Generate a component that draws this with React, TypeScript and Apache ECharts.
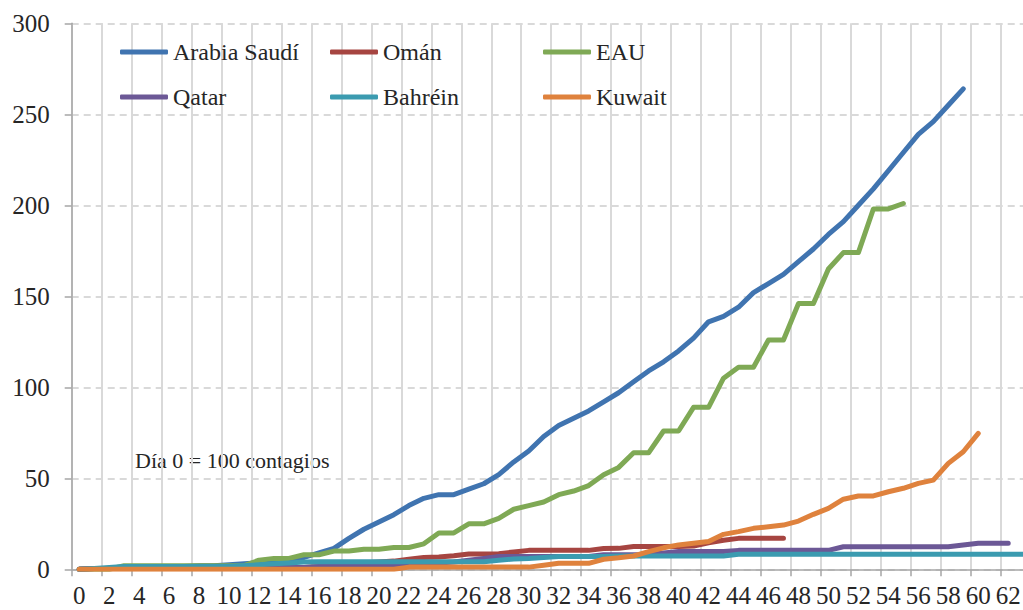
import React, { useEffect, useRef } from "react";
import * as echarts from "echarts";

const days: string[] = [
  "0","1","2","3","4","5","6","7","8","9","10","11","12","13","14","15","16","17","18","19",
  "20","21","22","23","24","25","26","27","28","29","30","31","32","33","34","35","36","37","38","39",
  "40","41","42","43","44","45","46","47","48","49","50","51","52","53","54","55","56","57","58","59",
  "60","61","62","63",
];

const seriesNames = ["Arabia Saudí", "Omán", "EAU", "Qatar", "Bahréin", "Kuwait"];

const arabiaSaudi = [
  0, 0.5, 0.5, 1, 1, 1, 1.5, 1.5, 2, 2,
  2.5, 3, 3.5, 4, 4.5, 6.5, 9, 11.5, 17, 22,
  26, 30, 35, 39, 41, 41, 44, 47, 52, 59,
  65, 73, 79, 83, 87, 92, 97, 103, 109, 114,
  120, 127, 136, 139, 144, 152, 157, 162, 169, 176,
  184, 191, 200, 209, 219, 229, 239, 246, 255, 264,
];

const oman = [
  0, 0.5, 0.5, 0.5, 0.5, 0.5, 0.5, 0.5, 0.5, 0.5,
  0.5, 1, 1, 1, 1, 1, 1.5, 2.5, 3, 3.5,
  4, 4.5, 5.5, 6.5, 6.8, 7.5, 8.4, 8.4, 8.6, 9.5,
  10.4, 10.4, 10.4, 10.4, 10.4, 11.4, 11.5, 12.5, 12.5, 12.5,
  12.5, 12.8, 14.6, 16, 17, 17, 17, 17,
];

const eau = [
  0, 0, 0, 2, 2, 2, 2, 2, 2, 2,
  2, 2, 5, 6, 6, 8, 8, 10, 10, 11,
  11, 12, 12, 14, 20, 20, 25, 25, 28, 33,
  35, 37, 41, 43, 46, 52, 56, 64, 64, 76,
  76, 89, 89, 105, 111, 111, 126, 126, 146, 146,
  165, 174, 174, 198, 198, 201,
];

const qatar = [
  0, 0.5, 0.5, 0.5, 0.5, 0.5, 0.5, 0.5, 0.5, 0.5,
  0.5, 1, 1, 1, 1, 1, 1.5, 1.5, 1.5, 1.5,
  2, 2, 2, 3, 3.5, 4, 5, 6, 7, 7,
  7, 7, 7, 7, 7, 8, 8, 8, 8, 9,
  9.8, 9.8, 9.8, 9.8, 10.4, 10.4, 10.4, 10.4, 10.4, 10.4,
  10.4, 12.4, 12.4, 12.4, 12.4, 12.4, 12.4, 12.4, 12.4, 13.4,
  14.3, 14.3, 14.3,
];

const bahrein = [
  0, 0.5, 1, 1.5, 1.5, 1.5, 1.5, 1.5, 1.5, 1.5,
  1.5, 2, 2.5, 3, 3.5, 4, 4.2, 4.2, 4.2, 4.2,
  4.2, 4.2, 4.2, 4.2, 4.2, 4.2, 4.2, 4.2, 5, 5.7,
  6, 6.5, 7, 7, 7, 7, 7.3, 7.3, 7.3, 7.3,
  7.3, 7.3, 7.3, 7.3, 8.3, 8.3, 8.3, 8.3, 8.3, 8.3,
  8.3, 8.3, 8.3, 8.3, 8.3, 8.3, 8.3, 8.3, 8.3, 8.3,
  8.3, 8.3, 8.3, 8.3,
];

const kuwait = [
  0, 0, 0, 0, 0, 0, 0, 0, 0, 0,
  0, 0, 0, 0, 0, 0, 0, 0, 0, 0,
  0, 0, 1.2, 1.2, 1.2, 1.2, 1.2, 1.2, 1.2, 1.2,
  1.2, 2.2, 3.3, 3.3, 3.3, 5.5, 6.3, 7.3, 9.7, 11.8,
  13.4, 14.3, 15.3, 19.2, 20.7, 22.5, 23.4, 24.3, 26.5, 30.2,
  33.5, 38.5, 40.3, 40.3, 42.6, 44.5, 47.2, 49, 58.2, 64.6,
  74.7,
];

const seriesData = [arabiaSaudi, oman, eau, qatar, bahrein, kuwait];
const colors = ["#4074B0", "#A64541", "#7FA955", "#6C5896", "#3B9BB0", "#DF823D"];

const noteText = "Día 0 = 100 contagios";

const FONT = "Liberation Serif";
const TEXT_COLOR = "#262626";

const legendPos = [
  { left: 120, top: 40 },
  { left: 330, top: 40 },
  { left: 543, top: 40 },
  { left: 120, top: 85 },
  { left: 330, top: 85 },
  { left: 543, top: 85 },
];

export default function App() {
  const ref = useRef<HTMLDivElement>(null);

  useEffect(() => {
    if (!ref.current) return;
    const chart = echarts.init(ref.current, null, { renderer: "svg" });

    const option: any = {
      animation: false,
      backgroundColor: "#ffffff",
      color: colors,
      textStyle: { fontFamily: FONT },
      grid: {
        left: 71.7,
        top: 23.3,
        width: 959,
        height: 546,
        containLabel: false,
        outerBoundsMode: "none",
      },
      legend: seriesNames.map((name, i) => ({
        data: [name],
        left: legendPos[i].left,
        top: legendPos[i].top,
        padding: 0,
        itemWidth: 48,
        itemHeight: 5,
        icon: "roundRect",
        selectedMode: false,
        textStyle: { fontFamily: FONT, fontSize: 24, color: TEXT_COLOR },
      })),
      xAxis: {
        type: "category",
        data: days,
        boundaryGap: true,
        axisLine: { show: true, lineStyle: { color: "#a6a6a6", width: 1.5 } },
        axisTick: { show: true, interval: 1, length: 7, lineStyle: { color: "#a6a6a6", width: 1.5 } },
        axisLabel: {
          interval: 1,
          margin: 14,
          fontFamily: FONT,
          fontSize: 25,
          color: TEXT_COLOR,
        },
        splitLine: { show: true, interval: 1, lineStyle: { color: "#d9d9d9", width: 2, type: "solid" } },
      },
      yAxis: {
        type: "value",
        min: 0,
        max: 300,
        interval: 50,
        axisLine: { show: true, lineStyle: { color: "#a6a6a6", width: 1.5 } },
        axisTick: { show: true, length: 7, lineStyle: { color: "#a6a6a6", width: 1.5 } },
        axisLabel: {
          margin: 22,
          fontFamily: FONT,
          fontSize: 25,
          color: TEXT_COLOR,
        },
        splitLine: { show: true, lineStyle: { color: "#d9d9d9", width: 2, type: [7, 5] } },
      },
      graphic: [
        {
          type: "text",
          x: 135,
          y: 460,
          style: {
            text: noteText,
            fontFamily: FONT,
            fontSize: 22,
            fill: TEXT_COLOR,
            verticalAlign: "middle",
          },
        },
      ],
      series: seriesNames.map((name, i) => ({
        name,
        type: "line",
        data: seriesData[i],
        symbol: "none",
        showSymbol: false,
        lineStyle: { width: 5, color: colors[i], cap: "round", join: "round" },
        itemStyle: { color: colors[i] },
        emphasis: { disabled: true },
      })),
    };

    chart.setOption(option);
    return () => chart.dispose();
  }, []);

  return (
    <div
      ref={ref}
      style={{ position: "fixed", left: 0, top: 0, width: 1023, height: 610, background: "#fff" }}
    />
  );
}
